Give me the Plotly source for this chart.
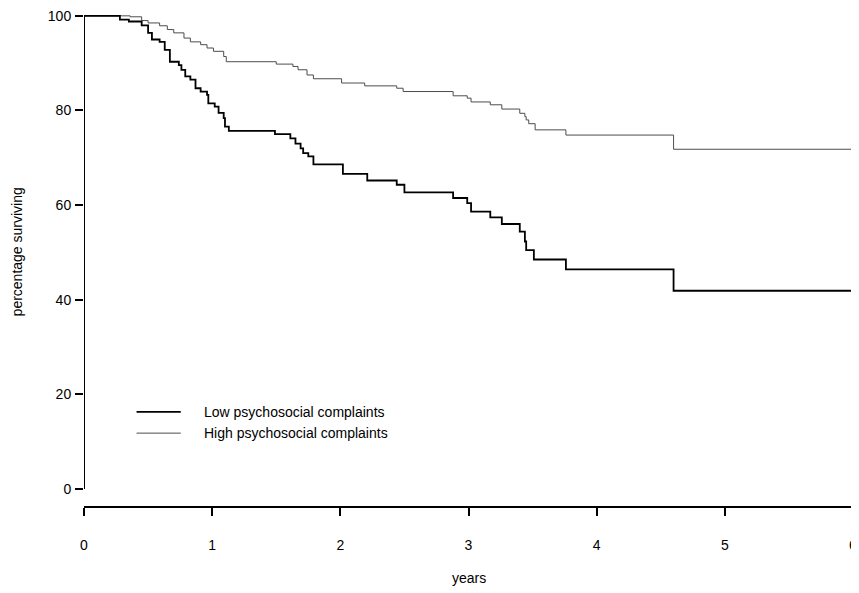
import plotly.graph_objects as go

# Kaplan-Meier step data (years, percentage surviving)
low_t = [0, 0.28, 0.35, 0.45, 0.50, 0.53, 0.59, 0.63, 0.67, 0.74, 0.76, 0.79, 0.83,
         0.87, 0.91, 0.96, 0.97, 1.02, 1.05, 1.09, 1.10, 1.13, 1.49, 1.61, 1.65, 1.69,
         1.71, 1.75, 1.79, 2.02, 2.21, 2.44, 2.50, 2.88, 2.99, 3.02, 3.17, 3.26, 3.40,
         3.44, 3.45, 3.51, 3.76, 4.60, 6.05]
low_s = [100, 99.2, 98.8, 98.0, 96.4, 95.0, 94.5, 92.8, 90.3, 89.6, 88.6, 87.2, 86.5,
         84.7, 84.0, 83.3, 81.5, 80.8, 79.5, 78.4, 76.6, 75.7, 75.0, 74.1, 73.0, 72.0,
         71.0, 70.3, 68.6, 66.6, 65.2, 64.3, 62.7, 61.5, 60.4, 58.6, 57.4, 56.0, 54.4,
         52.3, 50.5, 48.5, 46.4, 41.9, 41.9]

high_t = [0, 0.36, 0.45, 0.50, 0.59, 0.65, 0.70, 0.78, 0.83, 0.91, 0.96, 1.01, 1.09,
          1.11, 1.50, 1.63, 1.67, 1.74, 1.79, 2.01, 2.19, 2.44, 2.49, 2.88, 2.99, 3.02,
          3.17, 3.26, 3.40, 3.44, 3.45, 3.47, 3.52, 3.76, 4.60, 6.05]
high_s = [100, 99.8, 99.0, 98.5, 97.9, 97.1, 96.4, 95.3, 94.5, 93.9, 93.2, 92.5, 91.4,
          90.3, 89.8, 89.3, 88.6, 87.5, 86.7, 85.8, 85.2, 84.7, 84.0, 83.1, 82.6, 81.8,
          81.2, 80.3, 79.4, 78.7, 78.0, 77.2, 75.9, 74.8, 71.8, 71.8]

x_ticks = [0, 1, 2, 3, 4, 5, 6]
y_ticks = [0, 20, 40, 60, 80, 100]
series_names = ["Low psychosocial complaints", "High psychosocial complaints"]

FONT = "Liberation Sans, Arial, Helvetica, sans-serif"
LOW_COLOR = "#000000"
HIGH_COLOR = "#4d4d4d"

fig = go.Figure()
fig.add_trace(go.Scatter(x=high_t, y=high_s, mode="lines", line_shape="hv",
                         line=dict(color=HIGH_COLOR, width=1), name=series_names[1],
                         showlegend=False, cliponaxis=False))
fig.add_trace(go.Scatter(x=low_t, y=low_s, mode="lines", line_shape="hv",
                         line=dict(color=LOW_COLOR, width=1.8), name=series_names[0],
                         showlegend=False, cliponaxis=False))

# y axis line (from 0 to 100 only)
fig.add_shape(type="line", xref="x", yref="y", x0=0, x1=0, y0=0, y1=100,
              line=dict(color="black", width=2))

# manual legend
leg_y = [16.3, 11.8]
leg_cols = [LOW_COLOR, HIGH_COLOR]
leg_w = [1.8, 1]
for name, yy, c, w in zip(series_names, leg_y, leg_cols, leg_w):
    fig.add_shape(type="line", xref="x", yref="y", x0=0.41, x1=0.755, y0=yy, y1=yy,
                  line=dict(color=c, width=w))
    fig.add_annotation(x=0.92, y=yy, xref="x", yref="y", text=name, showarrow=False,
                       xanchor="left", yanchor="middle",
                       font=dict(family=FONT, size=14, color="black"))

# axis titles
fig.add_annotation(x=3, y=0, xref="x", yref="paper", yshift=-72, text="years",
                   showarrow=False, xanchor="center", yanchor="middle",
                   font=dict(family=FONT, size=14, color="black"))
fig.add_annotation(x=0, y=50, xref="paper", yref="y", xshift=-67,
                   text="percentage surviving", textangle=-90, showarrow=False,
                   xanchor="center", yanchor="middle",
                   font=dict(family=FONT, size=14, color="black"))

# page body has an 8px margin, so the figure is offset by 8px
fig.update_layout(
    width=851, height=585,
    margin=dict(l=76, r=6, t=5, b=87, autoexpand=False),
    plot_bgcolor="white", paper_bgcolor="white",
    font=dict(family=FONT, size=14, color="black"),
    xaxis=dict(range=[0, 6], tickvals=x_ticks, ticktext=[str(v) for v in x_ticks],
               showline=True, linecolor="black", linewidth=1.5, ticks="outside",
               ticklen=8, tickwidth=1.5, tickcolor="black", showgrid=False,
               zeroline=False, ticklabelstandoff=17, fixedrange=True,
               automargin=False, ticklabeloverflow="allow",
               tickfont=dict(family=FONT, size=14, color="black")),
    yaxis=dict(range=[-3.6, 100.6], tickvals=y_ticks, ticktext=[str(v) for v in y_ticks],
               showline=False, ticks="outside", ticklen=8, tickwidth=1.5,
               tickcolor="black", showgrid=False, zeroline=False,
               ticklabelstandoff=1, fixedrange=True, automargin=False,
               ticklabeloverflow="allow",
               tickfont=dict(family=FONT, size=14, color="black")),
)

fig.write_html("out.html")
